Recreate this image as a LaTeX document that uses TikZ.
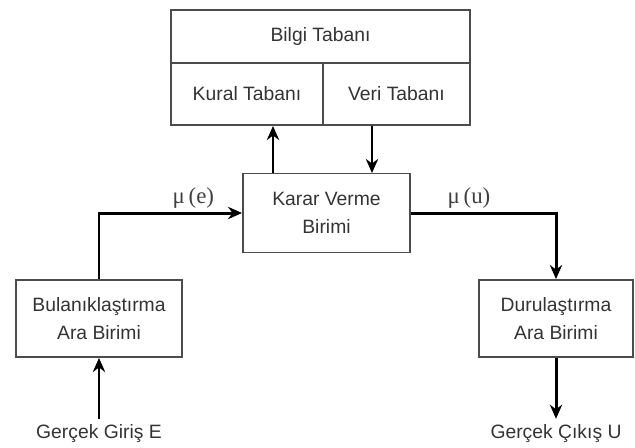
\documentclass[tikz,border=0pt]{standalone}
\usepackage{fontspec}
\setmainfont{Liberation Sans}
\newfontfamily\muserif{Liberation Serif}
\usepackage{tikz}
\usetikzlibrary{arrows.meta}

\begin{document}
\begin{tikzpicture}
[x=0.02cm,y=-0.02cm
,bx/.style={draw=black!70,line width=1.1pt,text=black!80,align=center,inner sep=0pt,font=\fontsize{11}{14}\selectfont}
,lbl/.style={text=black!80,font=\fontsize{11}{13}\selectfont}
,be/.style={draw=black,line width=1.7pt,arrows={-Stealth[length=8pt,width=7pt]}}
,mu/.style={text=black!75,font=\muserif\fontsize{13}{15}\selectfont,above,inner sep=2pt}]
\useasboundingbox (0,0) rectangle (635,447);
\node[bx,minimum width=299*0.02cm,minimum height=53*0.02cm] (bilgi) at (320.5,36.5) {Bilgi Tabanı};
\node[bx,minimum width=152*0.02cm,minimum height=62*0.02cm] (kural) at (247,94) {Kural Tabanı};
\node[bx,minimum width=147*0.02cm,minimum height=62*0.02cm] (veri) at (396.5,94) {Veri Tabanı};
\node[bx,minimum width=167*0.02cm,minimum height=79*0.02cm] (karar) at (326.5,213) {Karar Verme\\[2pt]Birimi};
\node[bx,minimum width=166*0.02cm,minimum height=77*0.02cm] (bulanik) at (99,318.5) {Bulanıklaştırma\\[2pt]Ara Birimi};
\node[bx,minimum width=154*0.02cm,minimum height=77*0.02cm] (durulas) at (556,318.5) {Durulaştırma\\[2pt]Ara Birimi};
\node[lbl] (giris) at (99,434) {Gerçek Giriş E};
\node[lbl] (cikis) at (556,434) {Gerçek Çıkış U};
\coordinate (up) at (273,173);
\coordinate (down) at (372,173);
\draw[be] (up) -- (up |- kural.south);
\draw[be] (down |- veri.south) -- (down);
\draw[be] (bulanik.north) |- node[mu,pos=0.83]{μ\,(e)} (karar.west);
\draw[be] (karar.east) -| node[mu,pos=0.2]{μ\,(u)} (durulas.north);
\draw[be] (giris.north) -- (bulanik.south);
\draw[be] (durulas.south) -- (cikis.north);
\end{tikzpicture}
\end{document}
